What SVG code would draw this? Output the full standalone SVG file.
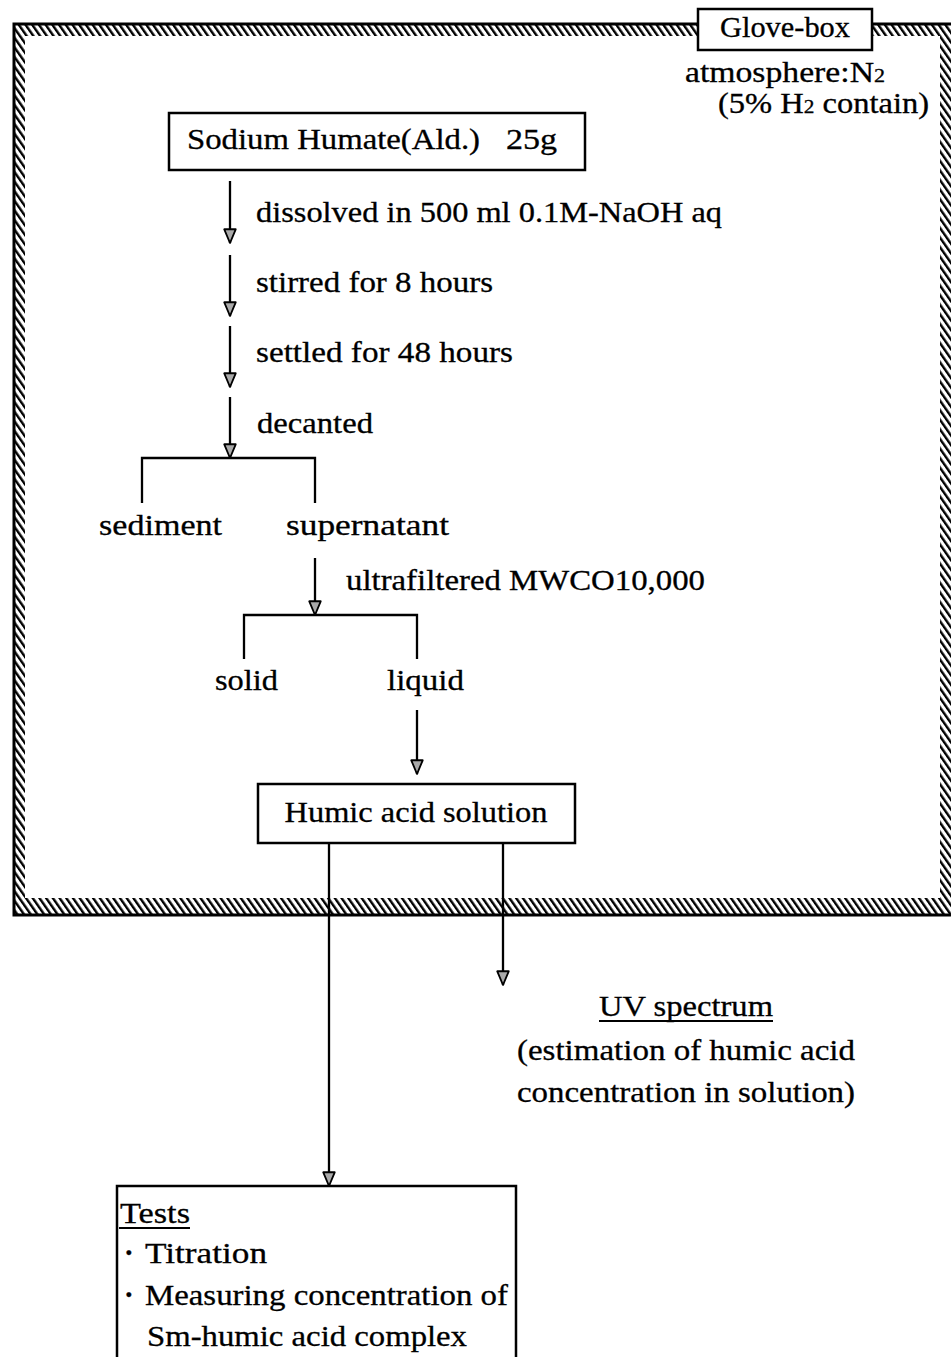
<svg xmlns="http://www.w3.org/2000/svg" width="951" height="1357" viewBox="0 0 951 1357">
  <defs>
    <pattern id="hatch" width="5.5" height="5.5" patternUnits="userSpaceOnUse" patternTransform="rotate(-35)">
      <rect x="0" y="0" width="2.4" height="5.5" fill="#000"/>
    </pattern>
    <marker id="arrow" markerUnits="userSpaceOnUse" markerWidth="16" markerHeight="14" refX="13" refY="6" orient="auto" viewBox="0 0 14 12">
      <path d="M1,1 L13,6 L1,11 Z" fill="#aaa" stroke="#000" stroke-width="1.6" stroke-linejoin="round"/>
    </marker>
    <style>
      text { font-family: "Liberation Serif", "DejaVu Serif", serif; font-size: 29px; fill: #000; stroke: #000; stroke-width: 0.3; }
      .box { fill: #fff; stroke: #000; stroke-width: 2.5; }
      .line { fill: none; stroke: #000; stroke-width: 2.3; }
      .arr { fill: none; stroke: #000; stroke-width: 2.3; marker-end: url(#arrow); }
      .sub { font-size: 19px; }
      .dot { font-weight: bold; }
    </style>
  </defs>

  <rect width="951" height="1357" fill="#fff"/>

  <!-- glove-box enclosure: hatched wall band -->
  <g id="glovebox">
    <path d="M14,24 H952 V915 H14 Z M25,36 V898 H940 V36 Z" fill="url(#hatch)" fill-rule="evenodd"/>
    <path d="M952,24 H14 V915 H952" fill="none" stroke="#000" stroke-width="3"/>
    <rect class="box" x="698" y="9" width="174" height="41"/>
    <text x="785" y="37" text-anchor="middle" textLength="130" lengthAdjust="spacingAndGlyphs">Glove-box</text>
    <text x="685" y="82" textLength="200" lengthAdjust="spacingAndGlyphs">atmosphere:N<tspan class="sub">2</tspan></text>
    <text x="718" y="113" textLength="211" lengthAdjust="spacingAndGlyphs">(5% H<tspan class="sub">2</tspan> contain)</text>
  </g>

  <g id="sodium-humate">
    <rect class="box" x="169" y="113" width="416" height="57"/>
    <text x="187" y="149" textLength="293" lengthAdjust="spacingAndGlyphs">Sodium Humate(Ald.)</text>
    <text x="506" y="149" textLength="51" lengthAdjust="spacingAndGlyphs">25g</text>
  </g>

  <g id="step-labels">
    <text x="256" y="222" textLength="466" lengthAdjust="spacingAndGlyphs">dissolved in 500 ml 0.1M-NaOH aq</text>
    <text x="256" y="292" textLength="237" lengthAdjust="spacingAndGlyphs">stirred for 8 hours</text>
    <text x="256" y="362" textLength="257" lengthAdjust="spacingAndGlyphs">settled for 48 hours</text>
    <text x="257" y="433" textLength="116" lengthAdjust="spacingAndGlyphs">decanted</text>
    <text x="346" y="590" textLength="359" lengthAdjust="spacingAndGlyphs">ultrafiltered MWCO10,000</text>
  </g>

  <g id="sediment"><text x="99" y="535" textLength="123" lengthAdjust="spacingAndGlyphs">sediment</text></g>
  <g id="supernatant"><text x="286" y="535" textLength="163" lengthAdjust="spacingAndGlyphs">supernatant</text></g>
  <g id="solid"><text x="215" y="690" textLength="63" lengthAdjust="spacingAndGlyphs">solid</text></g>
  <g id="liquid"><text x="387" y="690" textLength="77" lengthAdjust="spacingAndGlyphs">liquid</text></g>

  <g id="humic-acid-solution">
    <rect class="box" x="258" y="784" width="317" height="59"/>
    <text x="416" y="822" text-anchor="middle" textLength="263" lengthAdjust="spacingAndGlyphs">Humic acid solution</text>
  </g>

  <g id="uv-spectrum">
    <text x="686" y="1016" text-anchor="middle" textLength="174" lengthAdjust="spacingAndGlyphs">UV spectrum</text>
    <line x1="599" y1="1021" x2="773" y2="1021" stroke="#000" stroke-width="1.8"/>
    <text x="686" y="1060" text-anchor="middle" textLength="338" lengthAdjust="spacingAndGlyphs">(estimation of humic acid</text>
    <text x="686" y="1102" text-anchor="middle" textLength="338" lengthAdjust="spacingAndGlyphs">concentration in solution)</text>
  </g>

  <g id="tests">
    <path d="M117,1357 V1186 H516 V1357" class="box"/>
    <text x="120" y="1223" textLength="70" lengthAdjust="spacingAndGlyphs">Tests</text>
    <line x1="119" y1="1228" x2="190" y2="1228" stroke="#000" stroke-width="1.8"/>
    <text class="dot" x="124" y="1262">·</text>
    <text x="145" y="1263" textLength="122" lengthAdjust="spacingAndGlyphs">Titration</text>
    <text class="dot" x="124" y="1304">·</text>
    <text x="145" y="1305" textLength="363" lengthAdjust="spacingAndGlyphs">Measuring concentration of</text>
    <text x="147" y="1346" textLength="320" lengthAdjust="spacingAndGlyphs">Sm-humic acid complex</text>
  </g>

  <!-- connectors -->
  <g id="connectors">
    <line class="arr" x1="230" y1="181" x2="230" y2="243"/>
    <line class="arr" x1="230" y1="255" x2="230" y2="316"/>
    <line class="arr" x1="230" y1="326" x2="230" y2="387"/>
    <line class="arr" x1="230" y1="397" x2="230" y2="458"/>
    <path class="line" d="M142,503 V458 H315 V503"/>
    <line class="arr" x1="315" y1="558" x2="315" y2="615"/>
    <path class="line" d="M244,659 V615 H417 V659"/>
    <line class="arr" x1="417" y1="710" x2="417" y2="774"/>
    <line class="arr" x1="329" y1="843" x2="329" y2="1186"/>
    <line class="arr" x1="503" y1="843" x2="503" y2="985"/>
  </g>
</svg>
